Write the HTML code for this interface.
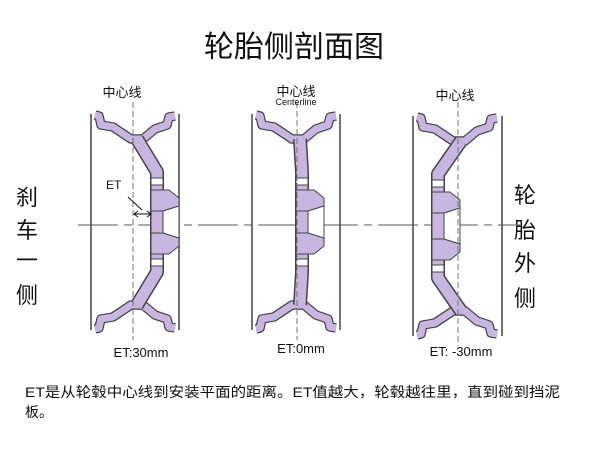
<!DOCTYPE html>
<html><head><meta charset="utf-8"><style>
html,body{margin:0;padding:0;background:#fff;}
svg{display:block;}
text{font-family:"Liberation Sans","Noto Sans CJK SC",sans-serif;fill:#111;}
</style></head><body>
<svg width="600" height="454" viewBox="0 0 600 454" xmlns="http://www.w3.org/2000/svg">
<defs>
<g id="half">
  <path d="M2,3 L6,4 L8,13 L20,15 L38,27 L50,27 L62,17 L74,13 L76,5 L82,4" fill="none" stroke="#444" stroke-width="9.5" stroke-linejoin="round"/>
  <path d="M2,3 L6,4 L8,13 L20,15 L38,27 L50,27 L62,17 L74,13 L76,5 L82,4" fill="none" stroke="#c9b6e0" stroke-width="7" stroke-linejoin="round"/>
</g>
</defs>
<rect width="600" height="454" fill="#fff"/>
<text x="294" y="57" font-size="30" text-anchor="middle">轮胎侧剖面图</text>

<g font-size="22" text-anchor="middle">
<text x="27" y="205">刹</text><text x="27" y="238">车</text><text x="27" y="268">一</text><text x="27" y="303">侧</text>
<text x="525" y="203">轮</text><text x="525" y="238">胎</text><text x="525" y="271">外</text><text x="525" y="306">侧</text>
</g>

<line x1="78" y1="225" x2="520" y2="225" stroke="#777" stroke-width="1.3" stroke-dasharray="40,6,8,6"/>

<g transform="translate(93,112)">
  <line x1="-2" y1="2" x2="-2" y2="218" stroke="#444" stroke-width="1.5"/>
  <line x1="86" y1="2" x2="86" y2="218" stroke="#444" stroke-width="1.5"/>
  <use href="#half"/><use href="#half" transform="translate(0,220) scale(1,-1)"/>
  <path d="M44,27 L64,60 L64,160 L44,193" fill="none" stroke="#444" stroke-width="14" stroke-linejoin="round"/>
  <path d="M44,27 L64,60 L64,160 L44,193" fill="none" stroke="#c9b6e0" stroke-width="11" stroke-linejoin="round"/>
  <rect x="58" y="66" width="12" height="7" fill="#fff" stroke="#444"/><rect x="58" y="147" width="12" height="7" fill="#fff" stroke="#444"/>
  <path d="M58,78 L76,78 L86,86 L86,94 L70,99 L58,99 Z" fill="#c9b6e0" stroke="#444"/>
  <path d="M58,142 L76,142 L86,134 L86,126 L70,121 L58,121 Z" fill="#c9b6e0" stroke="#444"/>
  <path d="M70,99 L86,94 L86,126 L70,121 Z" fill="#fff" stroke="#444"/>
  <line x1="40" y1="-10" x2="40" y2="228" stroke="#777" stroke-dasharray="6,3"/>
</g>
<g transform="translate(254,112)">
  <line x1="-2" y1="2" x2="-2" y2="218" stroke="#444" stroke-width="1.5"/>
  <line x1="86" y1="2" x2="86" y2="218" stroke="#444" stroke-width="1.5"/>
  <use href="#half"/><use href="#half" transform="translate(0,220) scale(1,-1)"/>
  <path d="M46,27 L48,60 L48,160 L46,193" fill="none" stroke="#444" stroke-width="14" stroke-linejoin="round"/>
  <path d="M46,27 L48,60 L48,160 L46,193" fill="none" stroke="#c9b6e0" stroke-width="11" stroke-linejoin="round"/>
  <rect x="42" y="66" width="12" height="7" fill="#fff" stroke="#444"/><rect x="42" y="147" width="12" height="7" fill="#fff" stroke="#444"/>
  <path d="M42,78 L60,78 L70,86 L70,94 L54,99 L42,99 Z" fill="#c9b6e0" stroke="#444"/>
  <path d="M42,142 L60,142 L70,134 L70,126 L54,121 L42,121 Z" fill="#c9b6e0" stroke="#444"/>
  <path d="M54,99 L70,94 L70,126 L54,121 Z" fill="#fff" stroke="#444"/>
  <line x1="43" y1="-10" x2="43" y2="228" stroke="#777" stroke-dasharray="6,3"/>
</g>
<g transform="translate(415,114)">
  <line x1="-2" y1="2" x2="-2" y2="222" stroke="#444" stroke-width="1.5"/>
  <line x1="87" y1="2" x2="87" y2="222" stroke="#444" stroke-width="1.5"/>
  <use href="#half"/><use href="#half" transform="translate(0,224) scale(1,-1)"/>
  <path d="M46,27 L23,60 L23,164 L46,197" fill="none" stroke="#444" stroke-width="14" stroke-linejoin="round"/>
  <path d="M46,27 L23,60 L23,164 L46,197" fill="none" stroke="#c9b6e0" stroke-width="11" stroke-linejoin="round"/>
  <rect x="17" y="66" width="12" height="7" fill="#fff" stroke="#444"/><rect x="17" y="151" width="12" height="7" fill="#fff" stroke="#444"/>
  <path d="M17,78 L35,78 L45,86 L45,94 L29,99 L17,99 Z" fill="#c9b6e0" stroke="#444"/>
  <path d="M17,146 L35,146 L45,138 L45,130 L29,125 L17,125 Z" fill="#c9b6e0" stroke="#444"/>
  <path d="M29,99 L45,94 L45,130 L29,125 Z" fill="#fff" stroke="#444"/>
  <line x1="43" y1="-12" x2="43" y2="232" stroke="#777" stroke-dasharray="6,3"/>
</g>

<text x="106" y="189" font-size="12">ET</text>
<line x1="128" y1="197" x2="142" y2="210" stroke="#111"/>
<line x1="134" y1="214" x2="151" y2="214" stroke="#111"/>
<path d="M138,211 L134,214 L138,217 M147,211 L151,214 L147,217" fill="none" stroke="#111"/>

<g font-size="13" text-anchor="middle">
<text x="122" y="97">中心线</text>
<text x="296" y="96">中心线</text>
<text x="296" y="105" font-size="9" fill="#aaa">Centerline</text>
<text x="455" y="100">中心线</text>
</g>
<g font-size="13" text-anchor="middle">
<text x="141" y="357">ET:30mm</text>
<text x="301" y="353">ET:0mm</text>
<text x="461" y="356">ET: -30mm</text>
</g>

<text x="25" y="397" font-size="14" textLength="535" lengthAdjust="spacingAndGlyphs">ET是从轮毂中心线到安装平面的距离。ET值越大，轮毂越往里，直到碰到挡泥</text>
<text x="25" y="417" font-size="14">板。</text>
</svg>
</body></html>
